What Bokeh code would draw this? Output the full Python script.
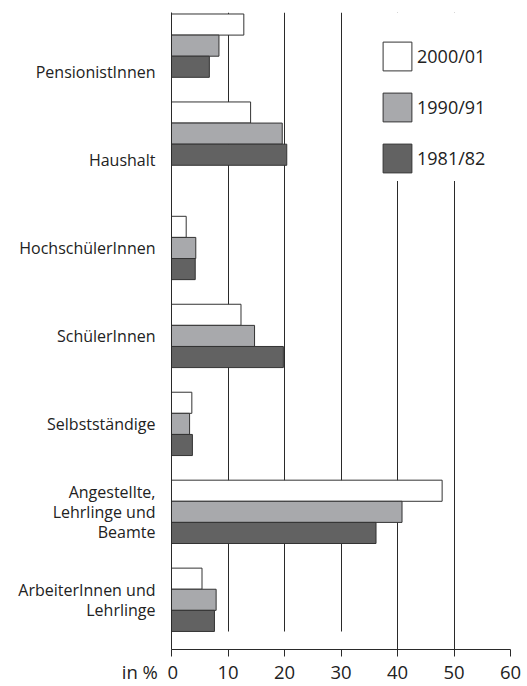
from bokeh.plotting import figure
from bokeh.models import (Range1d, FixedTicker, Legend, LegendItem,
                          ColumnDataSource, BoxAnnotation)
from bokeh.embed import file_html
from bokeh.resources import INLINE

# ---- data ----
categories = [
    "PensionistInnen",
    "Haushalt",
    "HochschülerInnen",
    "SchülerInnen",
    "Selbstständige",
    "Angestellte,\nLehrlinge und\nBeamte",
    "ArbeiterInnen und\nLehrlinge",
]
series_names = ["2000/01", "1990/91", "1981/82"]
values_2000 = [12.8, 14.0, 2.6, 12.3, 3.6, 47.9, 5.4]
values_1990 = [8.4, 19.6, 4.3, 14.7, 3.2, 40.8, 7.9]
values_1981 = [6.7, 20.4, 4.2, 19.8, 3.7, 36.2, 7.6]
x_ticks = [0, 10, 20, 30, 40, 50, 60]
x_tick_labels = ["0", "10", "20", "30", "40", "50", "60"]
x_unit = "in %"

# ---- layout / style ----
FONT = "Open Sans"
TXT = "#222222"
LINE = "#2a2a2a"
NBSP = "\u00a0"
fills = ["#ffffff", "#a8a9ac", "#626262"]
bar_h = 0.24
offsets = [bar_h, 0.0, -bar_h]
n = len(categories)
label_pos = [n - 1 - i for i in range(n)]
# the top two groups of bars sit a little higher than their labels
group_pos = [lp + (0.30 if i < 2 else 0.0) for i, lp in enumerate(label_pos)]
Y0, Y1 = -0.565, 6.677

p = figure(
    width=527, height=686,
    x_range=Range1d(0, 60), y_range=Range1d(Y0, Y1),
    output_backend="svg", toolbar_location=None,
    min_border_left=171, min_border_right=17,
    min_border_top=12, min_border_bottom=36,
)
p.outline_line_color = None
p.background_fill_color = "white"
p.border_fill_color = "white"

renderers = []
for vals, off, col in zip([values_2000, values_1990, values_1981], offsets, fills):
    src = ColumnDataSource(dict(y=[g + off for g in group_pos], right=vals))
    r = p.hbar(y="y", left=0, right="right", height=bar_h, source=src,
               fill_color=col, line_color="#333333", line_width=1)
    renderers.append(r)

# grid
p.ygrid.visible = False
p.xgrid.grid_line_color = LINE
p.xgrid.grid_line_width = 1

# white panels that interrupt the grid lines (behind the legend, and at the bottom left)
p.add_layout(BoxAnnotation(left=31, right=59, bottom=4.76, top=Y1, level="underlay",
                           fill_color="white", fill_alpha=1, line_color=None))
p.add_layout(BoxAnnotation(left=0, right=35, bottom=Y0, top=-0.36, level="underlay",
                           fill_color="white", fill_alpha=1, line_color=None))

# x axis; the unit "in %" sits left of the 0 label (padded so the 0 stays centred)
overrides = {t: s for t, s in zip(x_ticks, x_tick_labels)}
overrides[x_ticks[0]] = x_unit + NBSP * 2 + x_tick_labels[0] + NBSP * 9
p.xaxis.ticker = FixedTicker(ticks=x_ticks)
p.xaxis.major_label_overrides = overrides
p.xaxis.minor_tick_line_color = None
p.xaxis.major_tick_in = 0
p.xaxis.major_tick_out = 7
p.xaxis.major_tick_line_color = LINE
p.xaxis.axis_line_color = LINE
p.xaxis.major_label_standoff = 2
p.xaxis.major_label_text_font = FONT
p.xaxis.major_label_text_font_size = "18.5px"
p.xaxis.major_label_text_color = TXT

# y axis
p.yaxis.ticker = FixedTicker(ticks=label_pos)
p.yaxis.major_label_overrides = {lp: c for lp, c in zip(label_pos, categories)}
p.yaxis.major_tick_line_color = None
p.yaxis.minor_tick_line_color = None
p.yaxis.axis_line_color = LINE
p.yaxis.major_label_standoff = 10
p.yaxis.major_label_text_font = FONT
p.yaxis.major_label_text_font_size = "16px"
p.yaxis.major_label_text_color = TXT
p.yaxis.major_label_text_line_height = 0.9

# legend
legend = Legend(
    items=[LegendItem(label=s, renderers=[r]) for s, r in zip(series_names, renderers)],
    location=(208, 473),
    glyph_width=36, glyph_height=36, spacing=15, padding=10, label_standoff=2,
    label_text_font=FONT, label_text_font_size="18px", label_text_color=TXT,
    border_line_color=None, background_fill_color="white", background_fill_alpha=1,
)
p.add_layout(legend, "center")

open("out.html", "w").write(file_html(p, INLINE))
